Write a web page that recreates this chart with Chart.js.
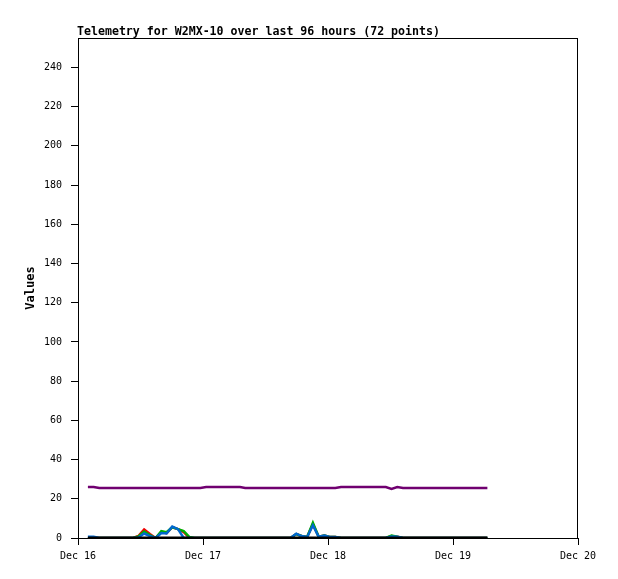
<!DOCTYPE html>
<html>
<head>
<meta charset="utf-8">
<script src="https://cdn.jsdelivr.net/npm/chart.js@4"></script>
<style>
  html, body { margin: 0; padding: 0; background: #fff; }
  #wrap { width: 618px; height: 579px; }
</style>
</head>
<body>
<div id="wrap"><canvas id="telemetryChart" width="618" height="579"></canvas></div>
<script>
// Telemetry chart - W2MX-10
const chartTitle = 'Telemetry for W2MX-10 over last 96 hours (72 points)';
const dayLabels = ['Dec 16', 'Dec 17', 'Dec 18', 'Dec 19', 'Dec 20'];

// hours since Dec 16 00:00
const hours = [
    1.9, 3.0, 4.1, 5.2, 6.2, 7.3, 8.4, 9.5, 10.6, 11.6,
    12.7, 13.8, 14.9, 16.0, 17.0, 18.1, 19.2, 20.3, 21.4, 22.4,
    23.5, 24.6, 25.7, 26.8, 27.8, 28.9, 30.0, 31.1, 32.1, 33.2,
    34.3, 35.4, 36.5, 37.5, 38.6, 39.7, 40.8, 41.9, 42.9, 44.0,
    45.1, 46.2, 47.3, 48.3, 49.4, 50.5, 51.6, 52.7, 53.7, 54.8,
    55.9, 57.0, 58.1, 59.1, 60.2, 61.3, 62.4, 63.5, 64.5, 65.6,
    66.7, 67.8, 68.8, 69.9, 71.0, 72.1, 73.2, 74.2, 75.3, 76.4,
    77.5, 78.6
];

const redValues = [
    0, 0, 0, 0, 0, 0, 0, 0, 0, 1,
    4.3, 2, 0, 3, 2.5, 5.5, 4.5, 3, 0, 0,
    0, 0, 0, 0, 0, 0, 0, 0, 0, 0,
    0, 0, 0, 0, 0, 0, 0, 2, 1, 0.5,
    7, 0.7, 1.2, 0.5, 0.5, 0, 0, 0, 0, 0,
    0, 0, 0, 0, 1, 0.6, 0, 0, 0, 0,
    0, 0, 0, 0, 0, 0, 0, 0, 0, 0,
    0, 0
];

const greenValues = [
    0, 0, 0, 0, 0, 0, 0, 0, 0, 0.8,
    3.3, 1.5, 0, 3.5, 3, 5.5, 4.5, 3.5, 0.5, 0,
    0, 0, 0, 0, 0, 0, 0, 0, 0, 0,
    0, 0, 0, 0, 0, 0, 0, 2, 1, 0.5,
    7.8, 0.7, 1.2, 0.5, 0.5, 0, 0, 0, 0, 0,
    0, 0, 0, 0, 1.3, 0.6, 0, 0, 0, 0,
    0, 0, 0, 0, 0, 0, 0, 0, 0, 0,
    0, 0
];

const blueValues = [
    0.7, 0.7, 0, 0, 0, 0, 0, 0, 0, 0.3,
    2.3, 1, 0, 2.5, 2.3, 5.8, 4.5, 0, 0, 0,
    0, 0, 0, 0, 0, 0, 0, 0, 0, 0,
    0, 0, 0, 0, 0, 0, 0, 2.2, 1, 0.5,
    6.5, 0.7, 1.2, 0.5, 0.5, 0, 0, 0, 0, 0,
    0, 0, 0, 0, 0.8, 0.6, 0, 0, 0, 0,
    0, 0, 0, 0, 0, 0, 0, 0, 0, 0,
    0, 0
];

const blackValues = [
    0, 0, 0, 0, 0, 0, 0, 0, 0, 0,
    0, 0, 0, 0, 0, 0, 0, 0, 0, 0,
    0, 0, 0, 0, 0, 0, 0, 0, 0, 0,
    0, 0, 0, 0, 0, 0, 0, 0, 0, 0,
    0, 0, 0, 0, 0, 0, 0, 0, 0, 0,
    0, 0, 0, 0, 0, 0, 0, 0, 0, 0,
    0, 0, 0, 0, 0, 0, 0, 0, 0, 0,
    0, 0
];

const purpleValues = [
    26, 26, 25.5, 25.5, 25.5, 25.5, 25.5, 25.5, 25.5, 25.5,
    25.5, 25.5, 25.5, 25.5, 25.5, 25.5, 25.5, 25.5, 25.5, 25.5,
    25.5, 26, 26, 26, 26, 26, 26, 26, 25.5, 25.5,
    25.5, 25.5, 25.5, 25.5, 25.5, 25.5, 25.5, 25.5, 25.5, 25.5,
    25.5, 25.5, 25.5, 25.5, 25.5, 26, 26, 26, 26, 26,
    26, 26, 26, 26, 25, 26, 25.5, 25.5, 25.5, 25.5,
    25.5, 25.5, 25.5, 25.5, 25.5, 25.5, 25.5, 25.5, 25.5, 25.5,
    25.5, 25.5
];

function toPoints(values) {
    return values.map((v, i) => ({ x: hours[i], y: v }));
}

function makeSeries(values, color, width) {
    return {
        data: toPoints(values),
        borderColor: color,
        backgroundColor: color,
        borderWidth: width,
        pointRadius: 0,
        tension: 0,
        fill: false
    };
}

const monoFont = '"DejaVu Sans Mono", "Liberation Mono", monospace';

// title text and plot frame
const framePlugin = {
    id: 'frame',
    afterDraw(chart) {
        const ctx = chart.ctx;
        const a = chart.chartArea;
        ctx.save();
        ctx.strokeStyle = '#000';
        ctx.lineWidth = 1;
        ctx.strokeRect(a.left + 0.5, a.top + 0.5, a.right - a.left - 1, a.bottom - a.top);
        ctx.fillStyle = '#000';
        ctx.font = 'bold 11.6px ' + monoFont;
        ctx.textBaseline = 'alphabetic';
        ctx.textAlign = 'left';
        ctx.fillText(chartTitle, 77, 35);
        ctx.restore();
    }
};

document.addEventListener('DOMContentLoaded', function() {
    const ctx = document.getElementById('telemetryChart');
    new Chart(ctx, {
        type: 'line',
        data: {
            datasets: [
                makeSeries(blackValues, '#000000', 3),
                makeSeries(blueValues, '#0068d0', 2.5),
                makeSeries(greenValues, '#00b000', 2.5),
                makeSeries(redValues, '#ee0000', 2.5),
                makeSeries(purpleValues, '#700070', 2.5)
            ]
        },
        options: {
            responsive: false,
            animation: false,
            layout: {
                padding: { top: 38, right: 40, left: 0, bottom: 0 }
            },
            plugins: {
                legend: { display: false },
                title: { display: false },
                tooltip: { enabled: false }
            },
            scales: {
                x: {
                    type: 'linear',
                    min: 0,
                    max: 96,
                    afterFit: function(scale) { scale.height = 41; },
                    ticks: {
                        stepSize: 24,
                        includeBounds: false,
                        autoSkip: false,
                        maxRotation: 0,
                        padding: 5,
                        color: '#000',
                        font: { family: monoFont, size: 10 },
                        callback: function(value) {
                            return dayLabels[value / 24];
                        }
                    },
                    grid: {
                        drawOnChartArea: false,
                        drawTicks: true,
                        tickLength: 7,
                        color: '#000'
                    },
                    border: { color: '#000', width: 1 }
                },
                y: {
                    min: 0,
                    max: 255,
                    afterFit: function(scale) { scale.width = 78; },
                    title: {
                        display: true,
                        text: 'Values',
                        color: '#000',
                        font: { family: monoFont, size: 12, weight: 'bold' },
                        padding: { top: 24, bottom: 0 }
                    },
                    ticks: {
                        stepSize: 20,
                        includeBounds: false,
                        padding: 9,
                        color: '#000',
                        font: { family: monoFont, size: 10 }
                    },
                    grid: {
                        drawOnChartArea: false,
                        drawTicks: true,
                        tickLength: 7,
                        color: '#000'
                    },
                    border: { color: '#000', width: 1 }
                }
            }
        },
        plugins: [framePlugin]
    });
});
</script>
</body>
</html>
